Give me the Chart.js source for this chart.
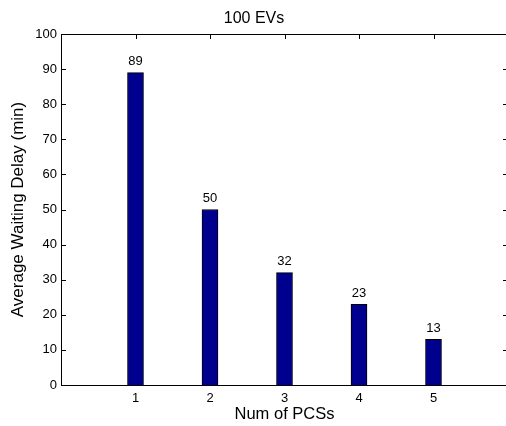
<!DOCTYPE html>
<html>
<head>
<meta charset="utf-8">
<script src="https://cdn.jsdelivr.net/npm/chart.js@4/dist/chart.umd.min.js"></script>
<style>
  html, body { margin: 0; padding: 0; background: #fff; overflow: hidden; }
  #chart { position: absolute; left: 0; top: 0; }
</style>
</head>
<body>
<canvas id="chart" width="512" height="426"></canvas>
<script>
// data
const pcsCounts = [1, 2, 3, 4, 5];
const waitDelays = [89, 50, 32, 23, 13];
const chartTitle = '100 EVs';
const xLabel = 'Num of PCSs';
const yLabel = 'Average Waiting Delay (min)';

const fontFamily = '"Liberation Sans", Arial, Helvetica, sans-serif';

// inward MATLAB-style ticks plus the top/right frame
const frameTicks = {
    id: 'frameTicks',
    beforeDatasetsDraw(chart) {
        const { ctx, chartArea: a, scales } = chart;
        const len = 5;
        ctx.save();
        ctx.strokeStyle = '#000';
        ctx.lineWidth = 1;
        ctx.beginPath();
        scales.y.ticks.forEach(t => {
            const y = Math.round(scales.y.getPixelForValue(t.value)) + 0.5;
            ctx.moveTo(a.left, y); ctx.lineTo(a.left + len, y);
            ctx.moveTo(a.right, y); ctx.lineTo(a.right - len, y);
        });
        pcsCounts.forEach(v => {
            const x = Math.round(scales.x.getPixelForValue(v)) + 0.5;
            ctx.moveTo(x, a.top); ctx.lineTo(x, a.top + len);
            ctx.moveTo(x, a.bottom); ctx.lineTo(x, a.bottom - len);
        });
        ctx.stroke();
        ctx.beginPath();
        ctx.moveTo(a.left, Math.round(a.top) + 0.5);
        ctx.lineTo(a.right, Math.round(a.top) + 0.5);
        ctx.moveTo(Math.round(a.right) - 0.5, a.top);
        ctx.lineTo(Math.round(a.right) - 0.5, a.bottom);
        ctx.stroke();
        ctx.restore();
    },
    afterDatasetsDraw(chart) {
        const { ctx } = chart;
        const meta = chart.getDatasetMeta(0);
        ctx.save();
        ctx.fillStyle = '#000';
        ctx.font = '13px ' + fontFamily;
        ctx.textAlign = 'center';
        ctx.textBaseline = 'alphabetic';
        meta.data.forEach((bar, i) => {
            ctx.fillText(String(waitDelays[i]), bar.x, bar.y - 7.5);
        });
        ctx.restore();
    }
};

new Chart(document.getElementById('chart'), {
    type: 'bar',
    data: {
        datasets: [{
            data: pcsCounts.map((x, i) => ({ x: x, y: waitDelays[i] })),
            backgroundColor: '#00008f',
            borderColor: '#000',
            borderWidth: 1,
            barThickness: 16
        }]
    },
    options: {
        responsive: false,
        animation: false,
        layout: {
            padding: { left: 0, right: 4, top: 0, bottom: 0 }
        },
        plugins: {
            legend: { display: false },
            tooltip: { enabled: false },
            title: {
                display: true,
                text: chartTitle,
                color: '#000',
                font: { family: fontFamily, size: 16, weight: 'normal' },
                padding: { top: 9, bottom: 5.8 }
            }
        },
        scales: {
            x: {
                type: 'linear',
                min: 0,
                max: 6,
                offset: false,
                grid: { display: false, drawTicks: false },
                border: { display: true, color: '#000', width: 1 },
                ticks: {
                    stepSize: 1,
                    padding: 6,
                    color: '#000',
                    font: { family: fontFamily, size: 13 },
                    maxRotation: 0,
                    callback: v => (pcsCounts.includes(v) ? String(v) : '')
                },
                title: {
                    display: true,
                    text: xLabel,
                    color: '#000',
                    font: { family: fontFamily, size: 16.5 },
                    padding: { top: 0, bottom: 1.5 }
                },
                afterFit(scale) {
                    scale.height = 41;
                    scale.paddingRight = 0;
                }
            },
            y: {
                min: 0,
                max: 100,
                grid: { display: false, drawTicks: false },
                border: { display: true, color: '#000', width: 1 },
                ticks: {
                    stepSize: 10,
                    padding: 4,
                    color: '#000',
                    font: { family: fontFamily, size: 13 }
                },
                title: {
                    display: true,
                    text: yLabel,
                    color: '#000',
                    font: { family: fontFamily, size: 17 },
                    padding: { top: 8, bottom: 0 }
                },
                afterFit(scale) { scale.width = 61; }
            }
        }
    },
    plugins: [frameTicks]
});
</script>
</body>
</html>
